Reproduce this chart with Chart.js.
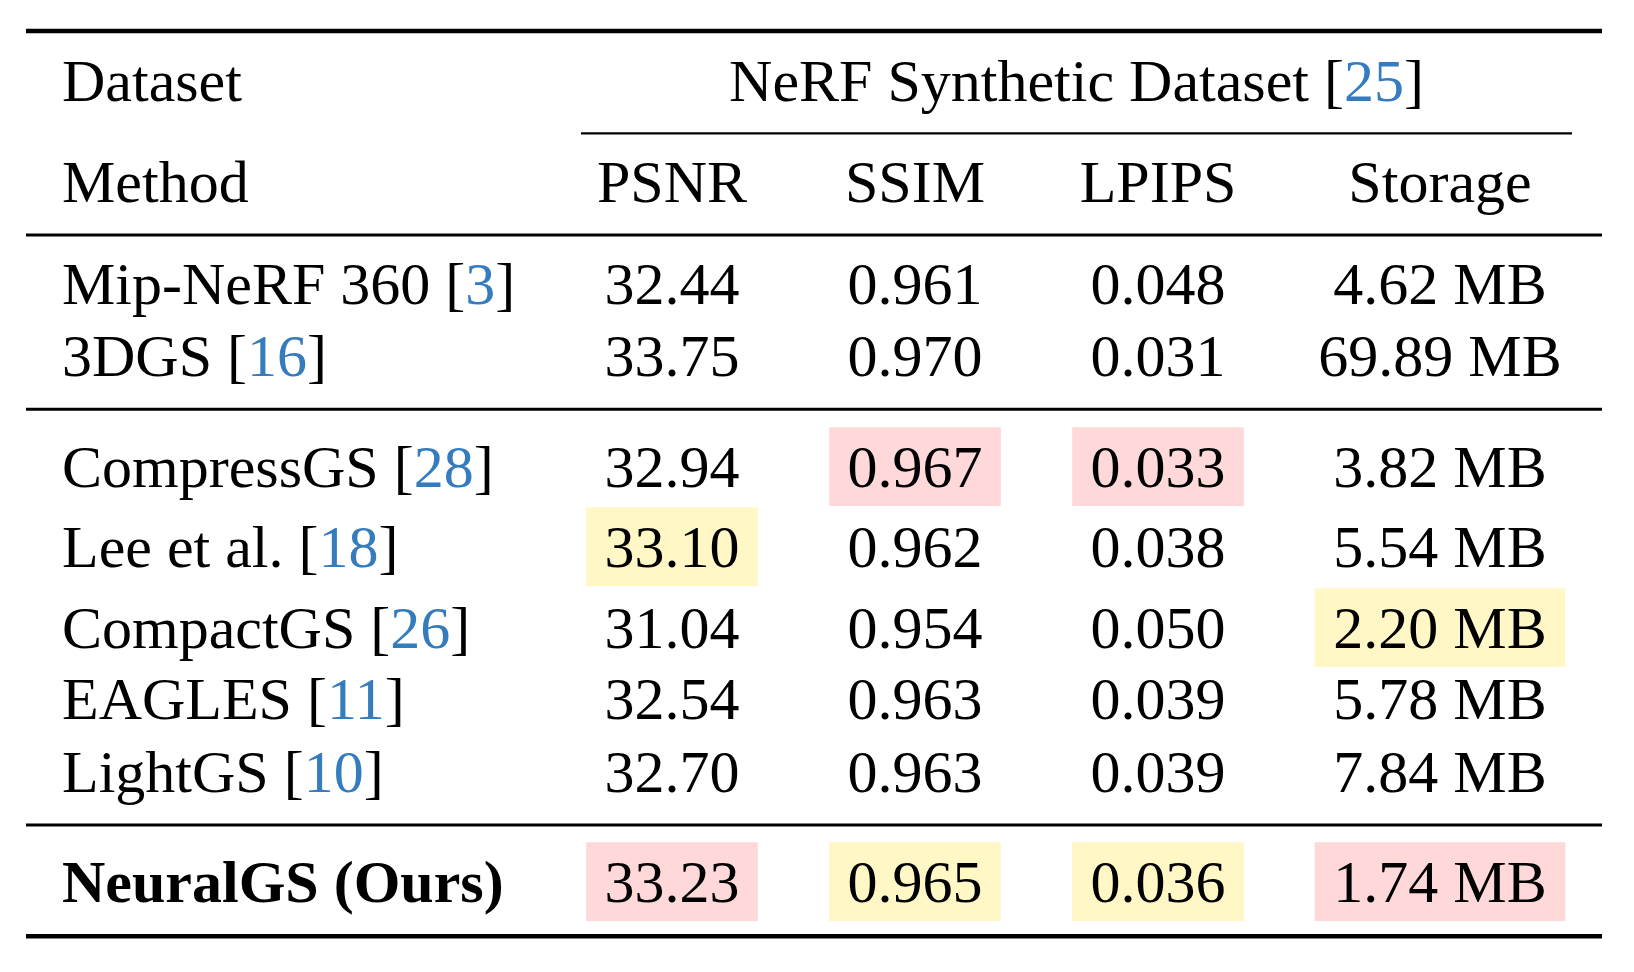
<!DOCTYPE html>
<html>
<head>
<meta charset="utf-8">
<title>NeRF Synthetic Dataset</title>
<script src="https://cdn.jsdelivr.net/npm/chart.js@4.4.1/dist/chart.umd.min.js"></script>
<style>
  html, body { margin: 0; padding: 0; background: #fff; }
  canvas { display: block; }
</style>
</head>
<body>
<canvas id="tableChart" width="1634" height="972"></canvas>
<script>
// Table data
const datasetName = "NeRF Synthetic Dataset";
const datasetRef = "25";
const metrics = ["PSNR", "SSIM", "LPIPS", "Storage"];
const methods = ["Mip-NeRF 360", "3DGS", "CompressGS", "Lee et al.", "CompactGS", "EAGLES", "LightGS", "NeuralGS (Ours)"];
const methodRefs = ["3", "16", "28", "18", "26", "11", "10", ""];
const psnr = [32.44, 33.75, 32.94, 33.10, 31.04, 32.54, 32.70, 33.23];
const ssim = [0.961, 0.970, 0.967, 0.962, 0.954, 0.963, 0.963, 0.965];
const lpips = [0.048, 0.031, 0.033, 0.038, 0.050, 0.039, 0.039, 0.036];
const storageMB = [4.62, 69.89, 3.82, 5.54, 2.20, 5.78, 7.84, 1.74];
// row index of best / second best per metric (PSNR, SSIM, LPIPS, Storage)
const bestRow = [7, 2, 2, 7];
const secondRow = [3, 7, 7, 4];

// Layout (in scale units of the hidden axes)
const W = 1634, H = 972;
const methodX = 62;
const colX = [672, 915, 1158, 1440];
const cellHalfW = [85.5, 85.5, 85.5, 125];
const headerY = [101, 202];
const rowY = [304, 376, 487, 567, 648, 719, 792, 902];
const digitMid = 20.3;        // baseline -> middle of digits
const boldRows = [7];
const rules = [
  { y: 31, x0: 26, x1: 1602, w: 4.5 },
  { y: 133.3, x0: 581, x1: 1572, w: 2.2 },
  { y: 235, x0: 26, x1: 1602, w: 3 },
  { y: 409.3, x0: 26, x1: 1602, w: 3 },
  { y: 825, x0: 26, x1: 1602, w: 3 },
  { y: 936.3, x0: 26, x1: 1602, w: 4.5 }
];

const FONT = '"Liberation Serif", "Times New Roman", serif';
const BLUE = "#347cbe";
const PINK = "#ffd9da";
const YELLOW = "#fff7c6";

const columns = [psnr, ssim, lpips, storageMB];
function formatCell(j, v) {
  if (j === 3) return v.toFixed(2) + " MB";
  if (j === 0) return v.toFixed(2);
  return v.toFixed(3);
}

// Highlight cells as floating horizontal bars
const highlightData = [];
const highlightColors = [];
metrics.forEach((m, j) => {
  [[bestRow[j], PINK], [secondRow[j], YELLOW]].forEach(([r, c]) => {
    highlightData.push({ y: rowY[r] - digitMid, x: [colX[j] - cellHalfW[j], colX[j] + cellHalfW[j]] });
    highlightColors.push(c);
  });
});

// Draw pieces of text one after another, some in blue
function drawPieces(ctx, pieces, x, y, align) {
  let total = 0;
  pieces.forEach(p => { ctx.font = p.font; total += ctx.measureText(p.text).width; });
  let cx = align === "center" ? x - total / 2 : x;
  ctx.textAlign = "left";
  pieces.forEach(p => {
    ctx.font = p.font;
    ctx.fillStyle = p.color;
    ctx.fillText(p.text, cx, y);
    cx += ctx.measureText(p.text).width;
  });
}

function withRef(text, ref, font) {
  const pieces = [{ text: text, font: font, color: "#000" }];
  if (ref) {
    pieces[0].text += " [";
    pieces.push({ text: ref, font: font, color: BLUE });
    pieces.push({ text: "]", font: font, color: "#000" });
  }
  return pieces;
}

const tablePlugin = {
  id: "tableText",
  afterDatasetsDraw(chart) {
    const { ctx, scales } = chart;
    const xs = scales.x, ys = scales.y;
    const regular = "60px " + FONT;
    const bold = "bold 60px " + FONT;

    ctx.save();
    ctx.textBaseline = "alphabetic";

    // rules
    ctx.strokeStyle = "#000";
    rules.forEach(r => {
      ctx.lineWidth = r.w;
      ctx.beginPath();
      ctx.moveTo(xs.getPixelForValue(r.x0), ys.getPixelForValue(r.y));
      ctx.lineTo(xs.getPixelForValue(r.x1), ys.getPixelForValue(r.y));
      ctx.stroke();
    });

    // header rows
    drawPieces(ctx, [{ text: "Dataset", font: regular, color: "#000" }],
      xs.getPixelForValue(methodX), ys.getPixelForValue(headerY[0]), "left");
    const spanMid = (rules[1].x0 + rules[1].x1) / 2;
    drawPieces(ctx, withRef(datasetName, datasetRef, regular),
      xs.getPixelForValue(spanMid), ys.getPixelForValue(headerY[0]), "center");
    drawPieces(ctx, [{ text: "Method", font: regular, color: "#000" }],
      xs.getPixelForValue(methodX), ys.getPixelForValue(headerY[1]), "left");
    metrics.forEach((m, j) => {
      drawPieces(ctx, [{ text: m, font: regular, color: "#000" }],
        xs.getPixelForValue(colX[j]), ys.getPixelForValue(headerY[1]), "center");
    });

    // body rows
    methods.forEach((name, i) => {
      const y = ys.getPixelForValue(rowY[i]);
      const f = boldRows.includes(i) ? bold : regular;
      drawPieces(ctx, withRef(name, methodRefs[i], f), xs.getPixelForValue(methodX), y, "left");
      columns.forEach((col, j) => {
        drawPieces(ctx, [{ text: formatCell(j, col[i]), font: regular, color: "#000" }],
          xs.getPixelForValue(colX[j]), y, "center");
      });
    });

    ctx.restore();
  }
};

const canvas = document.getElementById("tableChart");
const tableChart = new Chart(canvas.getContext("2d"), {
  type: "bar",
  data: {
    datasets: [{
      label: "highlight",
      data: highlightData,
      backgroundColor: highlightColors,
      borderWidth: 0,
      barThickness: 78
    }]
  },
  options: {
    indexAxis: "y",
    responsive: false,
    animation: false,
    layout: { padding: 0 },
    scales: {
      x: { type: "linear", min: 0, max: W, display: false, offset: false },
      y: { type: "linear", min: 0, max: H, reverse: true, display: false, offset: false }
    },
    plugins: {
      legend: { display: false },
      tooltip: { enabled: false }
    }
  },
  plugins: [tablePlugin]
});
</script>
</body>
</html>
